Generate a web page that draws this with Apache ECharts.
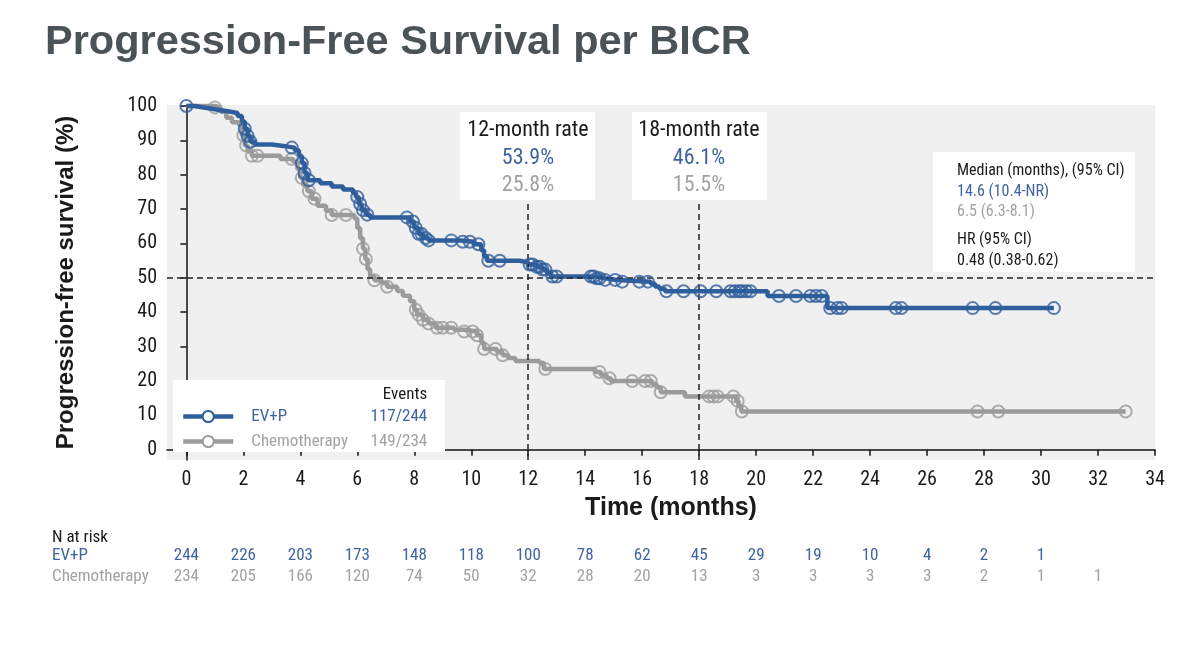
<!DOCTYPE html>
<html>
<head>
<meta charset="utf-8">
<script src="https://cdn.jsdelivr.net/npm/echarts@6/dist/echarts.min.js"></script>
<style>
html,body{margin:0;padding:0;background:#fff;}
#chart{width:1200px;height:645px;}
</style>
</head>
<body>
<div id="chart"></div>
<script>
// ---------------- data ----------------
const xTicks = [0,2,4,6,8,10,12,14,16,18,20,22,24,26,28,30,32,34];
const yTicks = [0,10,20,30,40,50,60,70,80,90,100];

// Kaplan-Meier steps [month, survival %] (value after the step)
const evpSteps = [
  [0,100],[0.3,99.6],[0.6,99.2],[0.9,98.8],[1.2,98.4],[1.5,98.0],[1.8,97.1],[1.95,95.5],[2.05,93.4],
  [2.15,91.3],[2.25,89.6],[2.4,88.8],[3.0,88.4],[3.4,87.9],[3.8,87.1],[3.95,85.5],[4.05,83.4],
  [4.15,80.5],[4.25,78.4],[4.7,77.5],[5.1,76.6],[5.5,75.7],[5.85,74.8],[5.95,73.5],[6.05,71.5],
  [6.15,69.7],[6.3,68.4],[6.45,67.6],[7.85,66.4],[8.0,64.5],[8.15,62.8],[8.3,61.6],[8.5,60.9],
  [9.6,60.5],[10.1,59.8],[10.35,58.0],[10.45,56.3],[10.55,55.0],[11.7,54.5],[12.0,53.9],[12.3,53.2],
  [12.5,52.4],[12.65,51.4],[12.8,50.4],[14.4,49.9],[14.7,49.4],[15.1,48.9],[16.3,48.3],[16.45,47.5],
  [16.6,46.8],[16.8,46.1],[20.4,44.7],[22.5,41.2],[30.45,41.2]
];
const chemoSteps = [
  [0,100],[1.0,99.6],[1.2,98.3],[1.4,96.6],[1.6,95.3],[1.85,94.4],[1.95,91.5],[2.05,88.5],[2.15,86.8],
  [2.3,85.5],[3.3,84.6],[3.75,83.8],[3.9,81.6],[4.0,79.1],[4.1,77.0],[4.25,75.2],[4.4,73.0],[4.6,71.0],
  [4.9,69.5],[5.1,68.3],[5.9,67.3],[6.0,64.5],[6.1,61.5],[6.2,58.5],[6.28,55.5],[6.36,52.5],[6.45,50.5],
  [6.6,49.3],[6.85,48.5],[7.05,47.4],[7.4,46.2],[7.6,44.8],[7.85,43.2],[8.0,40.7],[8.1,39.3],[8.3,37.8],
  [8.5,36.7],[8.75,35.5],[9.4,34.9],[9.75,34.4],[10.2,33.3],[10.35,31.2],[10.45,29.3],[10.9,28.5],
  [11.1,27.5],[11.3,26.7],[11.55,25.8],[12.4,25.2],[12.55,23.5],[14.35,22.6],[14.55,21.7],[14.75,20.8],
  [14.9,20.0],[16.35,19.1],[16.5,18.2],[16.65,16.7],[17.5,15.5],[19.3,14.2],[19.38,12.7],[19.48,11.1],
  [32.97,11.1]
];
// censoring times (months)
const evpCensor = [0,2.05,2.15,2.25,3.7,4.05,4.15,4.3,6.0,6.1,6.2,6.35,7.74,7.95,8.05,8.15,8.25,8.4,
  8.5,9.3,9.7,9.95,10.25,10.6,11.0,12.05,12.15,12.3,12.4,12.5,12.6,12.85,13.0,14.2,14.3,14.4,14.5,14.7,
  15.05,15.3,15.9,16.2,16.85,17.45,18.05,18.6,19.1,19.25,19.4,19.5,19.65,19.8,20.8,21.4,21.9,22.1,22.3,
  22.6,22.85,23.0,24.9,25.1,27.6,28.4,30.45];
const chemoCensor = [1.0,2.0,2.1,2.3,2.5,3.7,4.05,4.3,4.5,5.1,5.6,6.2,6.3,6.6,7.05,8.05,8.15,8.3,8.5,
  8.8,9.0,9.3,9.75,10.05,10.2,10.45,10.85,11.1,12.6,14.5,14.85,15.65,16.1,16.3,16.65,18.35,18.5,18.65,
  19.2,19.35,19.5,27.77,28.5,32.97];

const riskTimes = [0,2,4,6,8,10,12,14,16,18,20,22,24,26,28,30,32];
const atRiskEvp = [244,226,203,173,148,118,100,78,62,45,29,19,10,4,2,1];
const atRiskChemo = [234,205,166,120,74,50,32,28,20,13,3,3,3,3,2,1,1];

const names = ['EV+P','Chemotherapy'];
const events = ['117/244','149/234'];
const landmarkMonths = [12, 18];
const landmarkEvp = ['53.9%','46.1%'];
const landmarkChemo = ['25.8%','15.5%'];
const medianLines = ['Median (months), (95% CI)','14.6 (10.4-NR)','6.5 (6.3-8.1)','HR (95% CI)','0.48 (0.38-0.62)'];

// ---------------- style ----------------
const BLUE = '#2f5e9c', BLUE_T = '#3f64a0';
const GREY = '#9b9b9b', GREY_T = '#a2a2a2';
const NARROW = "'Liberation Sans Narrow','Arial Narrow','Roboto Condensed','Liberation Sans',sans-serif";
const SANS = "'Liberation Sans',Arial,sans-serif";

function survAt(steps, t){
  let s = steps[0][1];
  for (const p of steps){ if (p[0] <= t + 1e-9) s = p[1]; }
  return s;
}
const evpCensorPts = evpCensor.map(t => [t, survAt(evpSteps, t)]);
const chemoCensorPts = chemoCensor.map(t => [t, survAt(chemoSteps, t)]);

const chart = echarts.init(document.getElementById('chart'), null, {renderer:'canvas'});

const riskAxis = (gi, arr, color) => ({
  gridIndex: gi, type:'value', min:-0.68, max:34,
  axisLine:{show:false}, axisTick:{show:false}, splitLine:{show:false},
  axisLabel:{
    customValues: riskTimes.slice(0, arr.length), margin:0, verticalAlign:'middle',
    fontFamily:NARROW, fontSize:17, color:color,
    formatter: v => String(arr[riskTimes.indexOf(Math.round(v))])
  }
});
const hiddenY = gi => ({gridIndex:gi, type:'value', show:false, min:0, max:1});

const option = {
  animation:false,
  backgroundColor:'#fff',
  title:{
    text:'Progression-Free Survival per BICR', left:45, top:22, padding:0,
    textStyle:{fontFamily:SANS, fontSize:41.5, fontWeight:'bold', color:'#4b5357'}
  },
  grid:[
    {left:167, right:45, top:105, bottom:185, show:true, backgroundColor:'#f0f0f0', borderWidth:0},
    {left:167, right:45, top:555, height:1},
    {left:167, right:45, top:576, height:1}
  ],
  xAxis:[
    {
      gridIndex:0, type:'value', min:-0.68, max:34,
      name:'Time (months)', nameLocation:'middle', nameGap:36,
      nameTextStyle:{fontFamily:SANS, fontSize:25, fontWeight:'bold', color:'#1a1a1a', padding:[0,0,0,20]},
      axisLine:{show:true, lineStyle:{color:'#111', width:1.5}},
      axisTick:{show:true, customValues:xTicks, length:6, lineStyle:{color:'#111', width:1.5}},
      axisLabel:{customValues:xTicks, margin:10, fontFamily:NARROW, fontSize:20, color:'#1a1a1a'},
      splitLine:{show:false}
    },
    riskAxis(1, atRiskEvp, BLUE_T),
    riskAxis(2, atRiskChemo, GREY_T)
  ],
  yAxis:[
    {
      gridIndex:0, type:'value', min:-3, max:100.3,
      name:'Progression-free survival (%)', nameLocation:'middle', nameGap:89,
      nameTextStyle:{fontFamily:SANS, fontSize:24, fontWeight:'bold', color:'#1a1a1a'},
      axisLine:{show:true, lineStyle:{color:'#111', width:1.5}},
      axisTick:{show:true, customValues:yTicks, length:6, lineStyle:{color:'#111', width:1.5}},
      axisLabel:{customValues:yTicks, margin:10, fontFamily:NARROW, fontSize:20, color:'#1a1a1a'},
      splitLine:{show:false}
    },
    hiddenY(1), hiddenY(2)
  ],
  legend:{
    left:181, top:408, orient:'vertical', itemWidth:50, itemHeight:14, itemGap:8,
    selectedMode:false, backgroundColor:'transparent', padding:0,
    data:names,
    lineStyle:{width:4.5},
    formatter: n => {
      const i = names.indexOf(n);
      const k = i === 0 ? 'b' : 'g';
      return `{p|}{n${k}|${n}}{e${k}|${events[i]}}`;
    },
    textStyle:{
      fontFamily:NARROW, fontSize:17,
      rich:{
        p:{width:13},
        nb:{width:106, color:BLUE_T, fontFamily:NARROW, fontSize:17},
        ng:{width:106, color:GREY_T, fontFamily:NARROW, fontSize:17},
        eb:{width:70, align:'right', color:BLUE_T, fontFamily:NARROW, fontSize:17},
        eg:{width:70, align:'right', color:GREY_T, fontFamily:NARROW, fontSize:17}
      }
    }
  },
  graphic:[
    {type:'rect', z:1, shape:{x:173, y:380, width:272, height:72}, style:{fill:'#fff'}},
    {type:'text', z:5, x:405, y:395, style:{text:'Events', fontFamily:NARROW, fontSize:17, fill:'#1a1a1a', align:'center', verticalAlign:'middle'}},
    // landmark boxes
    {type:'rect', z:1, shape:{x:460, y:112, width:135, height:88}, style:{fill:'#fff'}},
    {type:'text', z:5, x:528, y:130, style:{text:landmarkMonths[0]+'-month rate', fontFamily:NARROW, fontSize:22, fill:'#1a1a1a', align:'center', verticalAlign:'middle'}},
    {type:'text', z:5, x:528, y:158, style:{text:landmarkEvp[0], fontFamily:NARROW, fontSize:22, fill:BLUE_T, align:'center', verticalAlign:'middle'}},
    {type:'text', z:5, x:528, y:185, style:{text:landmarkChemo[0], fontFamily:NARROW, fontSize:22, fill:GREY_T, align:'center', verticalAlign:'middle'}},
    {type:'rect', z:1, shape:{x:632, y:112, width:135, height:88}, style:{fill:'#fff'}},
    {type:'text', z:5, x:699, y:130, style:{text:landmarkMonths[1]+'-month rate', fontFamily:NARROW, fontSize:22, fill:'#1a1a1a', align:'center', verticalAlign:'middle'}},
    {type:'text', z:5, x:699, y:158, style:{text:landmarkEvp[1], fontFamily:NARROW, fontSize:22, fill:BLUE_T, align:'center', verticalAlign:'middle'}},
    {type:'text', z:5, x:699, y:185, style:{text:landmarkChemo[1], fontFamily:NARROW, fontSize:22, fill:GREY_T, align:'center', verticalAlign:'middle'}},
    // median box
    {type:'rect', z:1, shape:{x:933, y:152, width:202, height:120}, style:{fill:'#fff'}},
    {type:'text', z:5, x:957, y:171, style:{text:medianLines[0], fontFamily:NARROW, fontSize:16, fill:'#1a1a1a', verticalAlign:'middle'}},
    {type:'text', z:5, x:957, y:192, style:{text:medianLines[1], fontFamily:NARROW, fontSize:16, fill:BLUE_T, verticalAlign:'middle'}},
    {type:'text', z:5, x:957, y:212, style:{text:medianLines[2], fontFamily:NARROW, fontSize:16, fill:GREY_T, verticalAlign:'middle'}},
    {type:'text', z:5, x:957, y:240, style:{text:medianLines[3], fontFamily:NARROW, fontSize:16, fill:'#1a1a1a', verticalAlign:'middle'}},
    {type:'text', z:5, x:957, y:261, style:{text:medianLines[4], fontFamily:NARROW, fontSize:16, fill:'#1a1a1a', verticalAlign:'middle'}},
    // number at risk row labels
    {type:'text', z:5, x:52, y:538, style:{text:'N at risk', fontFamily:NARROW, fontSize:17, fill:'#1a1a1a', verticalAlign:'middle'}},
    {type:'text', z:5, x:52, y:556, style:{text:names[0], fontFamily:NARROW, fontSize:17, fill:BLUE_T, verticalAlign:'middle'}},
    {type:'text', z:5, x:52, y:577, style:{text:names[1], fontFamily:NARROW, fontSize:17, fill:GREY_T, verticalAlign:'middle'}}
  ],
  series:[
    {
      name:'ref', type:'line', data:[], xAxisIndex:0, yAxisIndex:0, z:1, silent:true,
      markLine:{
        silent:true, symbol:'none', label:{show:false},
        lineStyle:{type:[6,4], color:'#222', width:1.5},
        data:[
          {yAxis:50},
          [{coord:[landmarkMonths[0], -3]},{coord:[landmarkMonths[0], 72.6]}],
          [{coord:[landmarkMonths[1], -3]},{coord:[landmarkMonths[1], 72.6]}]
        ]
      }
    },
    {
      name:names[1], type:'line', step:'end', data:chemoSteps, z:2,
      symbol:'emptyCircle', symbolSize:12, showSymbol:false,
      lineStyle:{color:GREY, width:4.5}, itemStyle:{color:GREY, borderColor:GREY, borderWidth:2}
    },
    {
      name:'chemoCensor', type:'scatter', data:chemoCensorPts, z:3, symbol:'circle', symbolSize:12,
      itemStyle:{color:'rgba(0,0,0,0)', borderColor:GREY, borderWidth:2}
    },
    {
      name:names[0], type:'line', step:'end', data:evpSteps, z:4,
      symbol:'emptyCircle', symbolSize:12, showSymbol:false,
      lineStyle:{color:BLUE, width:4.5}, itemStyle:{color:BLUE, borderColor:BLUE, borderWidth:2}
    },
    {
      name:'evpCensor', type:'scatter', data:evpCensorPts, z:5, symbol:'circle', symbolSize:12,
      itemStyle:{color:'rgba(0,0,0,0)', borderColor:BLUE, borderWidth:2}
    }
  ]
};
chart.setOption(option);
</script>
</body>
</html>
